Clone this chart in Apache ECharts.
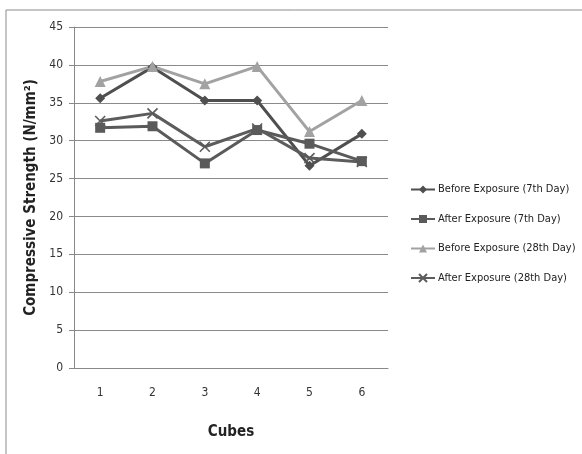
<!DOCTYPE html>
<html><head><meta charset="utf-8">
<script src="https://cdn.jsdelivr.net/npm/echarts@6/dist/echarts.min.js"></script>
<style>html,body{margin:0;padding:0;background:#fff}#c{width:582px;height:454px}</style>
</head><body><div id="c"></div>
<script>
var cubes = ['1','2','3','4','5','6'];
var before7 = [35.6, 39.7, 35.3, 35.3, 26.7, 30.9];
var after7 = [31.7, 31.9, 27.0, 31.4, 29.6, 27.3];
var before28 = [37.8, 39.8, 37.5, 39.8, 31.2, 35.3];
var after28 = [32.6, 33.6, 29.2, 31.6, 27.7, 27.2];
var names = ['Before Exposure (7th Day)','After Exposure (7th Day)','Before Exposure (28th Day)','After Exposure (28th Day)'];
var font = '"DejaVu Sans Condensed", "Open Sans", sans-serif';
var chart = echarts.init(document.getElementById('c'));
function s(name, data, color, symbol, size, extra){
  var o = {name:name, type:'line', data:data, symbol:symbol, symbolSize:size,
    lineStyle:{color:color,width:3}, itemStyle:{color:color}, animation:false};
  if (extra) o.itemStyle = extra;
  return o;
}
chart.setOption({
  animation:false,
  graphic:[{type:'rect', shape:{x:6,y:10,width:620,height:520}, style:{fill:'none',stroke:'#8a8a8a',lineWidth:1}}],
  grid:{left:74,right:194,top:27,bottom:86},
  legend:{orient:'vertical', left:405, top:179, itemGap:18.5, itemWidth:24, itemHeight:10, itemStyle:{},
    textStyle:{fontFamily:font,fontSize:11,color:'#222',padding:[0,0,0,-2]}, data:names},
  xAxis:{type:'category', data:cubes, boundaryGap:true, name:'Cubes', nameLocation:'middle', nameGap:57,
    nameTextStyle:{fontFamily:font,fontSize:15,fontWeight:'bold',color:'#222'},
    axisLine:{lineStyle:{color:'#888'}}, axisTick:{show:false},
    axisLabel:{fontFamily:font,fontSize:12,color:'#333',margin:19}},
  yAxis:{type:'value', min:0, max:45, interval:5, name:'Compressive Strength (N/mm²)', nameLocation:'middle', nameGap:32,
    nameTextStyle:{fontFamily:font,fontSize:15,fontWeight:'bold',color:'#222'},
    axisLine:{show:true,lineStyle:{color:'#888'}}, axisTick:{show:true,length:5,lineStyle:{color:'#888'}},
    axisLabel:{fontFamily:font,fontSize:12,color:'#333',margin:11},
    splitLine:{lineStyle:{color:'#8a8a8a',width:1}}},
  series:[
    s(names[0], before7, '#4f4f4f', 'diamond', 10),
    s(names[1], after7, '#5a5a5a', 'rect', 10),
    s(names[2], before28, '#a2a2a2', 'triangle', 11),
    s(names[3], after28, '#5c5c5c', 'path://M0,0 L10,10 M10,0 L0,10', 10,
      {color:'#5c5c5c', borderColor:'#5c5c5c', borderWidth:1.6})
  ]
});
</script></body></html>
